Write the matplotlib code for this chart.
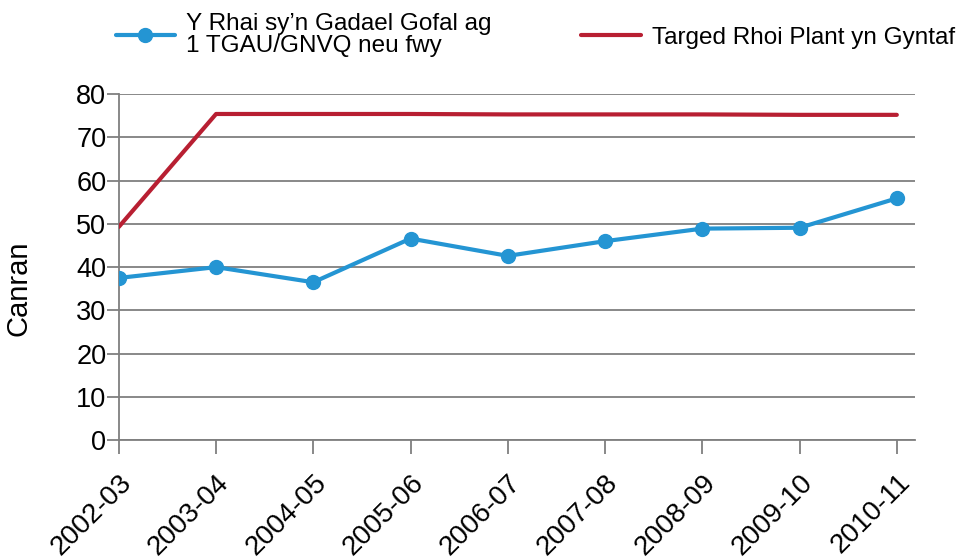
import matplotlib.pyplot as plt

plt.rcParams['font.family'] = ['Liberation Sans', 'DejaVu Sans']

years = ["2002-03", "2003-04", "2004-05", "2005-06", "2006-07",
         "2007-08", "2008-09", "2009-10", "2010-11"]
leavers = [37.5, 40.0, 36.5, 46.6, 42.6, 46.0, 48.9, 49.1, 55.9]
target = [49.3, 75.4, 75.4, 75.4, 75.3, 75.3, 75.3, 75.2, 75.2]

blue = '#2495d3'
red = '#b81f32'
grey = '#7f7f7f'

fig = plt.figure(figsize=(9.66, 5.6), dpi=100)
ax = fig.add_axes([0.123, 0.214, 0.824, 0.618])

x = list(range(len(years)))
l1, = ax.plot(x, leavers, color=blue, lw=3, marker='o', ms=10,
              solid_capstyle='round', zorder=3,
              label="Y Rhai sy\u2019n Gadael Gofal ag\n1 TGAU/GNVQ neu fwy")
l2, = ax.plot(x, target, color=red, lw=3, solid_capstyle='round', zorder=3,
              label="Targed Rhoi Plant yn Gyntaf")

ax.set_ylim(0, 80)
ax.set_xlim(0, 8.185)
ax.set_yticks(range(0, 81, 10))
ax.grid(axis='y', color=grey, lw=1.3)
ax.set_axisbelow(True)
for s in ['top', 'right']:
    ax.spines[s].set_visible(False)
for s in ['left', 'bottom']:
    ax.spines[s].set_color(grey)
    ax.spines[s].set_linewidth(1.3)

ax.set_xticks(x)
ax.set_xticklabels(years, rotation=45, ha='right', rotation_mode='anchor')
ax.tick_params(axis='x', length=10, width=1.3, color=grey, labelsize=20, pad=11)
ax.tick_params(axis='y', length=9, width=1.3, color=grey, labelsize=19.5, pad=0)
ax.set_ylabel("Canran", fontsize=21)
ax.yaxis.set_label_coords(-0.108, 0.44)

leg = fig.legend(handles=[l1, l2], loc='upper left', bbox_to_anchor=(0.102, 1.007),
                 ncol=2, frameon=False, fontsize=17.5, handlelength=2.45,
                 columnspacing=3.7, handletextpad=0.45, borderpad=0.2)
for t in leg.get_texts():
    t.set_linespacing(1.0)

fig.savefig('out.png', dpi=100)
